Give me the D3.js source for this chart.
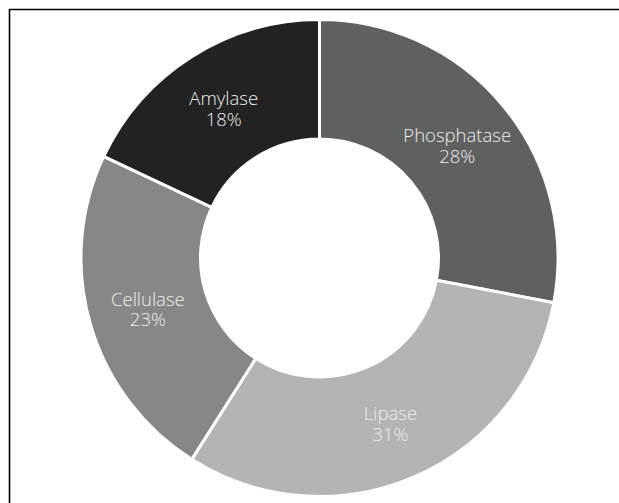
<!DOCTYPE html>
<html>
<head>
<meta charset="utf-8">
<script src="https://cdn.jsdelivr.net/npm/d3@7"></script>
<style>
html, body { margin: 0; padding: 0; background: #fff; }
svg { display: block; }
</style>
</head>
<body>
<svg id="chart" width="619" height="503"></svg>
<script>
const categories = ["Phosphatase", "Lipase", "Cellulase", "Amylase"];
const values = [28, 31, 23, 18];
const colors = ["#5f6160", "#b3b4b3", "#878787", "#222222"];

const W = 619, H = 503;
const cx = 319.5, cy = 258;
const outerR = 238.5, innerR = 119;

const svg = d3.select("#chart");

// frame (right and bottom edges lie outside the view)
svg.append("path")
  .attr("d", `M9.5,${H + 5} L9.5,9.5 L${W + 5},9.5`)
  .attr("fill", "none")
  .attr("stroke", "#000")
  .attr("stroke-width", 1.6);

const data = categories.map((c, i) => ({ name: c, value: values[i], color: colors[i] }));

const pie = d3.pie().value(d => d.value).sort(null);
const arc = d3.arc().innerRadius(innerR).outerRadius(outerR);
const labelArc = d3.arc().innerRadius((innerR + outerR) / 2).outerRadius((innerR + outerR) / 2);

const g = svg.append("g").attr("transform", `translate(${cx},${cy})`);

const arcs = pie(data);

g.selectAll("path.slice")
  .data(arcs)
  .enter().append("path")
  .attr("class", "slice")
  .attr("d", arc)
  .attr("fill", d => d.data.color)
  .attr("stroke", "#fff")
  .attr("stroke-width", 3)
  .attr("stroke-linejoin", "miter");

const labelGroups = g.selectAll("g.lbl")
  .data(arcs)
  .enter().append("g")
  .attr("class", "lbl")
  .attr("transform", d => `translate(${labelArc.centroid(d)})`);

function styleText(sel) {
  return sel.attr("text-anchor", "middle")
    .attr("fill", "#eeeeee")
    .style("font-family", "'Open Sans', 'Noto Sans', sans-serif")
    .style("font-weight", "300")
    .style("font-size", "18.5px");
}

styleText(labelGroups.append("text"))
  .attr("x", 0)
  .attr("y", -2)
  .text(d => d.data.name);
styleText(labelGroups.append("text"))
  .attr("x", 0)
  .attr("y", 18.5)
  .text(d => d.data.value + "%");
</script>
</body>
</html>
